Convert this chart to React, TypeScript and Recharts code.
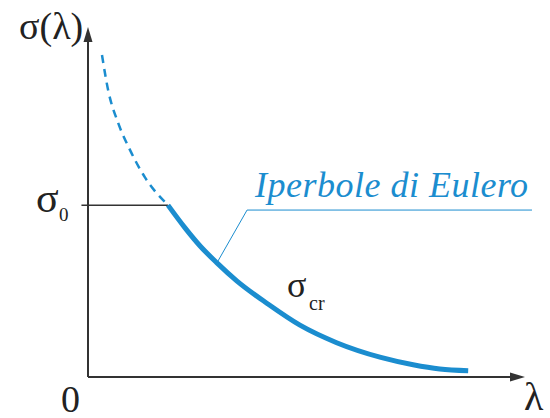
import { Line, LineChart, ReferenceLine, XAxis, YAxis } from "recharts";

// lambda / sigma (axis units 0..100)
const lambdaDashed = [3.2, 4.6, 6.9, 9.6, 13.0, 18.3];
const sigmaDashed = [92.0, 82.0, 72.6, 64.9, 57.1, 49.1];
const lambdaSolid = [18.3, 22.2, 25.6, 29.5, 34.1, 41.0, 48.5, 56.9, 67.0, 74.4, 80.5, 87.0];
const sigmaSolid = [49.1, 42.6, 37.5, 32.6, 27.4, 21.0, 14.8, 9.8, 5.6, 3.5, 2.3, 1.8];
const sigma0 = 49.1;
const lambda0 = 18.3;

const dashedData = lambdaDashed.map((l, i) => ({ l, s: sigmaDashed[i] }));
const solidData = lambdaSolid.map((l, i) => ({ l, s: sigmaSolid[i] }));

const BLUE = "#1b8dcf";
const INK = "#333333";
const SERIF = '"Liberation Serif", "Times New Roman", Tinos, serif';

const ArrowLine = (props: any) => {
  const { x1, y1, x2, y2 } = props;
  const dx = x2 - x1;
  const dy = y2 - y1;
  const len = Math.sqrt(dx * dx + dy * dy) || 1;
  const ux = dx / len;
  const uy = dy / len;
  const head = 15;
  const half = 4.5;
  const bx = x2 - ux * head;
  const by = y2 - uy * head;
  const pts = `${x2},${y2} ${bx - uy * half},${by + ux * half} ${bx + uy * half},${by - ux * half}`;
  return (
    <g>
      <line x1={x1} y1={y1} x2={bx + ux * 2} y2={by + uy * 2} stroke={INK} strokeWidth={2} />
      <polygon points={pts} fill={INK} />
    </g>
  );
};

// html labels laid over the chart; left = x, top = baseline y
const Label = ({ x, y, size, children, italic, color, spacing }: any) => (
  <div
    className="euler-label"
    style={{
      position: "absolute",
      left: x,
      top: y - size,
      height: size,
      fontFamily: SERIF,
      fontSize: size,
      lineHeight: `${size}px`,
      fontStyle: italic ? "italic" : "normal",
      letterSpacing: spacing || 0,
      color: color || "#222",
      whiteSpace: "nowrap",
    }}
  >
    {children}
  </div>
);

export default function App() {
  return (
    <div
      className="euler-root"
      style={{ position: "absolute", left: 0, top: 0, width: 550, height: 418, background: "#fff", fontFamily: SERIF }}
    >
      <style>{`.euler-root .euler-label { font-family: ${SERIF} !important; }`}</style>
      <LineChart width={550} height={418} margin={{ top: 27, right: 25, bottom: 41, left: 88 }}>
        <XAxis type="number" dataKey="l" domain={[0, 100]} hide allowDataOverflow />
        <YAxis type="number" dataKey="s" domain={[0, 100]} hide allowDataOverflow />
        <ReferenceLine
          segment={[{ x: -1.5, y: sigma0 }, { x: lambda0, y: sigma0 }]}
          stroke={INK}
          strokeWidth={1.5}
          ifOverflow="visible"
        />
        <ReferenceLine
          segment={[{ x: 29.5, y: 32.6 }, { x: 36.4, y: 47.7 }]}
          stroke={BLUE}
          strokeWidth={1}
          ifOverflow="visible"
        />
        <ReferenceLine
          segment={[{ x: 36.4, y: 47.7 }, { x: 101.6, y: 47.7 }]}
          stroke={BLUE}
          strokeWidth={1}
          ifOverflow="visible"
        />
        <ReferenceLine
          segment={[{ x: 0, y: 0 }, { x: 100, y: 0 }]}
          shape={ArrowLine}
          ifOverflow="visible"
        />
        <ReferenceLine
          segment={[{ x: 0, y: 0 }, { x: 0, y: 100 }]}
          shape={ArrowLine}
          ifOverflow="visible"
        />
        <Line
          data={dashedData}
          dataKey="s"
          type="monotone"
          stroke={BLUE}
          strokeWidth={2.5}
          strokeDasharray="8 6"
          dot={false}
          isAnimationActive={false}
        />
        <Line
          data={solidData}
          dataKey="s"
          type="monotone"
          stroke={BLUE}
          strokeWidth={5}
          dot={false}
          isAnimationActive={false}
        />
      </LineChart>
      <Label x={19} y={45} size={38}>σ(λ)</Label>
      <Label x={36} y={219} size={42}>σ</Label>
      <Label x={59} y={224} size={19}>0</Label>
      <Label x={61} y={418} size={38}>0</Label>
      <Label x={524} y={417} size={40}>λ</Label>
      <Label x={287} y={303} size={36}>σ</Label>
      <Label x={309} y={313} size={20}>cr</Label>
      <Label x={255} y={203} size={36} italic color={BLUE} spacing={0.5}>Iperbole di Eulero</Label>
    </div>
  );
}
